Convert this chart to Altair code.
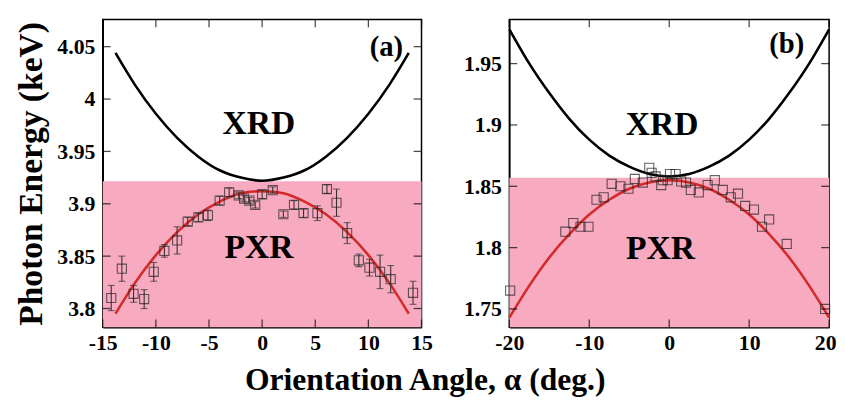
import altair as alt
import pandas as pd

FONT = "'Liberation Serif', 'Times New Roman', serif"

# ---------------- Panel (a) data ----------------
a_x = [-14.2, -13.2, -12.1, -11.1, -10.2, -9.2, -8.0, -7.0, -6.0, -5.1, -4.0, -3.1, -2.2, -1.7, -1.2,
       -0.65, 0.0, 1.0, 2.0, 3.0, 3.9, 5.2, 6.1, 7.0, 8.0, 9.1, 10.1, 11.1, 12.1, 14.2]
a_y = [3.810, 3.838, 3.814, 3.809, 3.835, 3.855, 3.865, 3.883, 3.887, 3.889, 3.903, 3.911, 3.908, 3.905, 3.903,
       3.899, 3.909, 3.913, 3.890, 3.899, 3.891, 3.891, 3.914, 3.901, 3.872, 3.846, 3.839, 3.835, 3.828, 3.815]
a_err = [0.012, 0.012, 0.008, 0.009, 0.009, 0.006, 0.013, 0.004, 0.004, 0.005, 0.004, 0.004, 0.003, 0.003, 0.003,
         0.003, 0.004, 0.003, 0.003, 0.004, 0.004, 0.007, 0.004, 0.013, 0.010, 0.006, 0.008, 0.016, 0.013, 0.011]
a_cx = [-13.8, -12, -10, -8, -6, -4, -2, 0, 2, 4, 6, 8, 10, 12, 13.8]
a_xrd = [4.044, 4.014, 3.986, 3.963, 3.945, 3.932, 3.925, 3.922, 3.925, 3.932, 3.945, 3.963, 3.986, 4.014, 4.044]
a_pxr = [3.795, 3.824, 3.851, 3.873, 3.890, 3.902, 3.910, 3.912, 3.910, 3.902, 3.890, 3.873, 3.851, 3.824, 3.795]
a_band = 3.9215
a_xdom = [-15, 15]
a_ydom = [3.782, 4.076]
a_xticks = [-15, -10, -5, 0, 5, 10, 15]
a_yticks = [3.8, 3.85, 3.9, 3.95, 4, 4.05]
a_labels = ["XRD", "PXR", "(a)"]
a_lx = [-0.3, -0.3, 11.7]
a_ly = [3.976, 3.858, 4.05]

# ---------------- Panel (b) data ----------------
b_x = [-19.9, -13.0, -12.0, -11.1, -10.1, -9.1, -8.2, -7.2, -6.1, -5.1, -4.3, -3.3, -2.5, -2.2, -1.7, -1.0,
       -0.8, -0.2, 0.1, 0.8, 1.5, 2.1, 2.7, 3.7, 4.8, 5.7, 6.7, 7.7, 8.6, 9.5, 10.6, 11.6, 12.5, 14.7, 19.5]
b_y = [1.765, 1.813, 1.820, 1.817, 1.817, 1.839, 1.841, 1.852, 1.850, 1.848, 1.856, 1.853, 1.865, 1.861, 1.858,
       1.851, 1.855, 1.855, 1.860, 1.860, 1.854, 1.853, 1.847, 1.845, 1.851, 1.855, 1.847, 1.841, 1.844, 1.834,
       1.831, 1.817, 1.823, 1.803, 1.750]
b_cx = [-20, -17.5, -15, -12.5, -10, -7.5, -5, -2.5, 0, 2.5, 5, 7.5, 10, 12.5, 15, 17.5, 20]
b_xrd = [1.978, 1.950, 1.926, 1.905, 1.888, 1.875, 1.866, 1.860, 1.858, 1.860, 1.866, 1.875, 1.888, 1.905,
         1.926, 1.950, 1.978]
b_pxr = [1.743, 1.769, 1.792, 1.811, 1.827, 1.839, 1.848, 1.853, 1.855, 1.853, 1.848, 1.839, 1.827, 1.811,
         1.792, 1.769, 1.743]
b_band = 1.857
b_xdom = [-20, 20]
b_ydom = [1.735, 1.986]
b_xticks = [-20, -10, 0, 10, 20]
b_yticks = [1.75, 1.8, 1.85, 1.9, 1.95]
b_labels = ["XRD", "PXR", "(b)"]
b_lx = [-0.9, -1.1, 14.7]
b_ly = [1.900, 1.799, 1.966]

PINK = "#F8ABC0"
RED = "#D42A2A"
H = 312


def panel(px, py, perr, cx, xrd, pxr, band, xdom, ydom, xticks, yticks, labels, lx, ly, W, ytitle,
          last_shift=0):
    xs = alt.Scale(domain=xdom, nice=False, zero=False)
    ys = alt.Scale(domain=ydom, nice=False, zero=False)
    xax = alt.Axis(values=xticks, labelExpr="datum.value + ''", title=None, ticks=False, grid=False,
                   labelFlush=False,
                   labelOffset={"condition": {"test": f"datum.value == {xdom[1]}", "value": last_shift},
                                "value": 0})
    yax = alt.Axis(values=yticks, labelExpr="datum.value + ''", title=ytitle, ticks=False, grid=False,
                   labelFlush=False)

    def X(f="x"):
        return alt.X(f"{f}:Q", scale=xs, axis=xax)

    def Y(f="y"):
        return alt.Y(f"{f}:Q", scale=ys, axis=yax)

    band_df = pd.DataFrame({"y": [band]})
    band_l = alt.Chart(band_df).mark_rect(color=PINK).encode(
        x=alt.value(0), x2=alt.value(W), y=Y(), y2=alt.value(H))

    curves = pd.DataFrame({"x": cx, "xrd": xrd, "pxr": pxr})
    xrd_l = alt.Chart(curves).mark_line(color="black", strokeWidth=2.6, interpolate="natural").encode(
        x=X(), y=Y("xrd"))
    pxr_l = alt.Chart(curves).mark_line(color=RED, strokeWidth=2.6, interpolate="natural").encode(
        x=X(), y=Y("pxr"))

    pts = pd.DataFrame({"x": px, "y": py})
    layers = [band_l, xrd_l, pxr_l]
    if perr is not None:
        pts["lo"] = [v - e for v, e in zip(py, perr)]
        pts["hi"] = [v + e for v, e in zip(py, perr)]
        err_l = alt.Chart(pts).mark_rule(color="#333333", strokeWidth=1.1).encode(
            x=X(), y=Y("lo"), y2="hi:Q")
        cap_lo = alt.Chart(pts).mark_tick(orient="horizontal", color="#333333", size=7, thickness=1.1).encode(
            x=X(), y=Y("lo"))
        cap_hi = alt.Chart(pts).mark_tick(orient="horizontal", color="#333333", size=7, thickness=1.1).encode(
            x=X(), y=Y("hi"))
        layers += [err_l, cap_lo, cap_hi]
    pt_l = alt.Chart(pts).mark_point(shape="square", size=85, filled=False, color="#222222",
                                     strokeWidth=1.1).encode(x=X(), y=Y())
    layers.append(pt_l)

    xt = pd.DataFrame({"x": xticks})
    yt = pd.DataFrame({"y": yticks})
    for yy in (4, H - 4):
        layers.append(alt.Chart(xt).mark_tick(orient="vertical", size=8, thickness=1.3, color="black").encode(
            x=X(), y=alt.value(yy)))
    for xx in (4, W - 4):
        layers.append(alt.Chart(yt).mark_tick(orient="horizontal", size=8, thickness=1.3, color="black").encode(
            y=Y(), x=alt.value(xx)))

    lab = pd.DataFrame({"x": lx, "y": ly, "t": labels})
    big = lab.iloc[:2]
    small = lab.iloc[2:]
    layers.append(alt.Chart(big).mark_text(font=FONT, fontWeight="bold", fontSize=34, color="black",
                                           baseline="middle").encode(x=X(), y=Y(), text="t:N"))
    layers.append(alt.Chart(small).mark_text(font=FONT, fontWeight="bold", fontSize=29, color="black",
                                             baseline="middle").encode(x=X(), y=Y(), text="t:N"))

    return alt.layer(*layers).properties(width=W, height=H)


pa = panel(a_x, a_y, a_err, a_cx, a_xrd, a_pxr, a_band, a_xdom, a_ydom, a_xticks, a_yticks,
           a_labels, a_lx, a_ly, 323, "Photon Energy (keV)")
pb = panel(b_x, b_y, None, b_cx, b_xrd, b_pxr, b_band, b_xdom, b_ydom, b_xticks, b_yticks,
           b_labels, b_lx, b_ly, 324, None, last_shift=-4)

chart = alt.hconcat(pa, pb, spacing=29).properties(
    title=alt.TitleParams("Orientation Angle, α (deg.)", orient="bottom", anchor="middle",
                          font=FONT, fontSize=32, fontWeight="bold", color="black", offset=12),
    padding={"left": 5, "top": 8, "right": 0, "bottom": 0},
    background="white",
).configure_view(stroke="black", strokeWidth=1.5).configure_axis(
    labelFont=FONT, labelFontWeight="bold", labelFontSize=22, labelColor="black",
    domainColor="black", domainWidth=1.5,
    titleFont=FONT, titleFontWeight="bold", titleFontSize=34, titleColor="black",
).configure_axisX(labelPadding=5).configure_axisY(labelPadding=8, titlePadding=9)

chart.save("out.html", embed_options={"renderer": "svg", "actions": False})
